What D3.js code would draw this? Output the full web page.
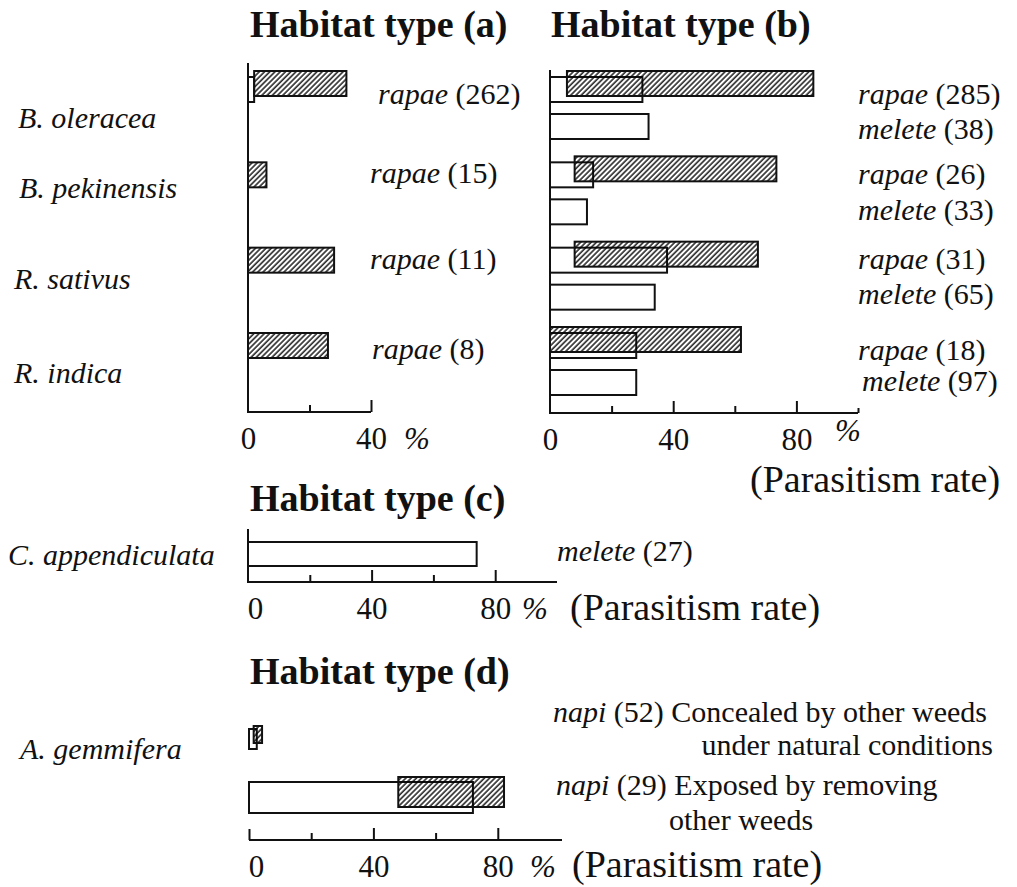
<!DOCTYPE html>
<html><head><meta charset="utf-8">
<script src="https://cdn.jsdelivr.net/npm/d3@7"></script>
<style>
html,body{margin:0;padding:0;background:#fff;}
svg text{font-family:"Liberation Serif","Times New Roman",serif;fill:#111;}
</style></head><body>
<svg id="chart" width="1017" height="887"></svg>
<script>
// ---- Data: parasitism rate (%) per host plant and butterfly sample ----
const hostPlantsAB = ["B. oleracea", "B. pekinensis", "R. sativus", "R. indica"];

// Habitat type (a): P. rapae only
const rapaeCountsA = [262, 15, 11, 8];
const openA = [2, 0, 0, 0];
const hatchStartA = [2, 0, 0, 0];
const hatchEndA = [32, 6, 28, 26];

// Habitat type (b): P. rapae and P. melete
const rapaeCountsB = [285, 26, 31, 18];
const meleteCountsB = [38, 33, 65, 97];
const rapaeOpenB = [30, 14, 38, 28];
const rapaeHatchStartB = [5.5, 8, 8, 0];
const rapaeHatchEndB = [85.5, 73.5, 67.5, 62];
const meleteOpenB = [32, 12, 34, 28];

// Habitat type (c)
const hostPlantC = "C. appendiculata";
const meleteCountC = 27;
const meleteOpenC = 74;

// Habitat type (d)
const hostPlantD = "A. gemmifera";
const napiCountsD = [52, 29];
const napiConditionsD = [["Concealed by other weeds", "under natural conditions"],
                         ["Exposed by removing", "other weeds"]];
const napiOpenD = [2.5, 72];
const napiHatchStartD = [1.5, 48];
const napiHatchEndD = [4.2, 82];

// Axis ticks
const ticksShort = [0, 20, 40];
const ticksFull = [0, 20, 40, 60, 80, 100];
const tickLabelValues = [0, 40, 80];

// ---- Drawing ----
const svg = d3.select("#chart");
svg.append("rect").attr("width", 1017).attr("height", 887).attr("fill", "#fff");

const defs = svg.append("defs");
defs.append("pattern")
  .attr("id", "hatch")
  .attr("patternUnits", "userSpaceOnUse")
  .attr("width", 3.7).attr("height", 3.7)
  .attr("patternTransform", "rotate(45)")
  .append("line")
  .attr("x1", 1).attr("y1", 0).attr("x2", 1).attr("y2", 3.7)
  .attr("stroke", "#000").attr("stroke-width", 1.35);

const INK = "#111";
const LABEL_SIZE = 30;
const TICK_SIZE = 31;

function title(x, y, txt) {
  svg.append("text").attr("x", x).attr("y", y)
    .attr("font-size", 38).attr("font-weight", "bold").text(txt);
}

function italicLabel(x, y, txt, anchor) {
  svg.append("text").attr("x", x).attr("y", y)
    .attr("font-size", LABEL_SIZE).attr("font-style", "italic")
    .attr("text-anchor", anchor || "start").text(txt);
}

function sampleLabel(x, y, species, n, extra, size) {
  const t = svg.append("text").attr("x", x).attr("y", y).attr("font-size", size || LABEL_SIZE);
  t.append("tspan").attr("font-style", "italic").text(species);
  t.append("tspan").text(" (" + n + ")" + (extra ? " " + extra : ""));
}

// Bottom axis with inward (upward) ticks; ticks at 40 and 80 are longer.
function drawAxis(xScale, yAxis, tickVals, opts) {
  const axis = d3.axisBottom(xScale)
    .tickValues(tickVals)
    .tickSizeInner(-7)
    .tickSizeOuter(0)
    .tickFormat(d => tickLabelValues.includes(d) ? d : "");
  const g = svg.append("g").attr("transform", `translate(0,${yAxis})`).call(axis);
  g.select(".domain").attr("stroke", INK).attr("stroke-width", 2)
    .attr("d", `M${xScale.range()[0]},0H${opts.axisEnd}`);
  g.selectAll(".tick line").attr("stroke", INK).attr("stroke-width", 2)
    .attr("y2", d => (d === 0 ? (opts.zeroTick || 0) : (d % 40 === 0 ? -12 : (d === 100 ? -5 : -7))));
  g.selectAll(".tick text")
    .attr("y", 37).attr("dy", 0)
    .attr("dx", d => (d === 0 ? (opts.zeroShift || 0) : 0))
    .attr("font-size", TICK_SIZE).attr("fill", INK);
  return g;
}

function vLine(x, y1, y2) {
  svg.append("line").attr("x1", x).attr("x2", x).attr("y1", y1).attr("y2", y2)
    .attr("stroke", INK).attr("stroke-width", 2);
}

function openBar(x, v, y, h) {
  if (v <= 0) return;
  svg.append("rect")
    .attr("x", x(0)).attr("y", y).attr("width", x(v) - x(0)).attr("height", h)
    .attr("fill", "#fff").attr("stroke", INK).attr("stroke-width", 2);
}

function hatchBar(x, v0, v1, y, h) {
  if (v1 <= v0) return;
  svg.append("rect")
    .attr("x", x(v0)).attr("y", y).attr("width", x(v1) - x(v0)).attr("height", h)
    .attr("fill", "url(#hatch)").attr("stroke", INK).attr("stroke-width", 2);
}

// ---------- Habitat type (a) ----------
const xA = d3.scaleLinear().domain([0, 40]).range([248, 371]);
const groupY = d3.scaleLinear().domain([0, 3]).range([77, 333]);
const BAR_H = 25, HATCH_SHIFT = 6, MELETE_OFFSET = 37;

title(250, 37, "Habitat type (a)");
vLine(xA(0), 63, 413);
hostPlantsAB.forEach((p, i) => {
  const y = groupY(i);
  openBar(xA, openA[i], y, BAR_H);
  hatchBar(xA, hatchStartA[i], hatchEndA[i], openA[i] > 0 ? y - HATCH_SHIFT : y, BAR_H);
});
drawAxis(xA, 412, ticksShort, { axisEnd: xA(40) });
svg.append("text").attr("x", 404).attr("y", 449).attr("font-size", TICK_SIZE)
  .attr("font-style", "italic").text("%");

const labelYA = [104, 183, 269, 359];
const labelXA = [378, 370, 370, 372];
rapaeCountsA.forEach((n, i) => sampleLabel(labelXA[i], labelYA[i], "rapae", n));

const hostLabelY = [128, 198, 289, 383];
const hostLabelX = [18, 19, 14, 14];
hostPlantsAB.forEach((p, i) => italicLabel(hostLabelX[i], hostLabelY[i], p));

// ---------- Habitat type (b) ----------
const xB = d3.scaleLinear().domain([0, 100]).range([550, 858]);
title(551, 37, "Habitat type (b)");
vLine(xB(0), 70, 414);
hostPlantsAB.forEach((p, i) => {
  const y = groupY(i);
  openBar(xB, rapaeOpenB[i], y, BAR_H);
  hatchBar(xB, rapaeHatchStartB[i], rapaeHatchEndB[i], y - HATCH_SHIFT, BAR_H);
  openBar(xB, meleteOpenB[i], y + MELETE_OFFSET, BAR_H);
});
drawAxis(xB, 413, ticksFull, { axisEnd: xB(100) });
svg.append("text").attr("x", 835).attr("y", 441).attr("font-size", TICK_SIZE)
  .attr("font-style", "italic").text("%");
svg.append("text").attr("x", 750).attr("y", 492).attr("font-size", 38).text("(Parasitism rate)");

const rapaeLabelYB = [104, 184, 269, 360];
const meleteLabelYB = [139, 220, 304, 391];
const meleteLabelXB = [858, 858, 858, 862];
rapaeCountsB.forEach((n, i) => sampleLabel(858, rapaeLabelYB[i], "rapae", n));
meleteCountsB.forEach((n, i) => sampleLabel(meleteLabelXB[i], meleteLabelYB[i], "melete", n));

// ---------- Habitat type (c) ----------
const xC = d3.scaleLinear().domain([0, 100]).range([248, 557]);
title(250, 511, "Habitat type (c)");
vLine(xC(0), 529, 583);
openBar(xC, meleteOpenC, 542, 24);
drawAxis(xC, 582, ticksFull.slice(0, 5), { axisEnd: xC(100), zeroShift: 7 });
svg.append("text").attr("x", 522).attr("y", 619).attr("font-size", TICK_SIZE)
  .attr("font-style", "italic").text("%");
svg.append("text").attr("x", 570).attr("y", 620).attr("font-size", 38).text("(Parasitism rate)");
sampleLabel(557, 561, "melete", meleteCountC);
italicLabel(8, 565, hostPlantC);

// ---------- Habitat type (d) ----------
const xD = d3.scaleLinear().domain([0, 100]).range([249, 560]);
title(250, 684, "Habitat type (d)");
const rowTopD = [729, 782];
const rowHD = [20, 31];
napiOpenD.forEach((v, i) => {
  openBar(xD, v, rowTopD[i], rowHD[i]);
  hatchBar(xD, napiHatchStartD[i], napiHatchEndD[i], rowTopD[i] - (i === 0 ? 3 : 5), rowHD[i] - (i === 0 ? 3 : 1));
});
drawAxis(xD, 840, ticksFull.slice(0, 5), { axisEnd: 562, zeroTick: -11, zeroShift: 7 });
svg.append("text").attr("x", 530).attr("y", 877).attr("font-size", TICK_SIZE)
  .attr("font-style", "italic").text("%");
svg.append("text").attr("x", 572).attr("y", 877).attr("font-size", 38).text("(Parasitism rate)");
italicLabel(20, 759, hostPlantD);

const D_SIZE = 30;
const napiLabelX = [553, 556];
const napiLabelY = [722, 795];
const napiSecondLineX = [993, 669];
const napiSecondLineY = [755, 830];
napiCountsD.forEach((n, i) => {
  sampleLabel(napiLabelX[i], napiLabelY[i], "napi", n, napiConditionsD[i][0], D_SIZE);
  svg.append("text").attr("x", napiSecondLineX[i]).attr("y", napiSecondLineY[i])
    .attr("font-size", D_SIZE).attr("text-anchor", i === 0 ? "end" : "start")
    .text(napiConditionsD[i][1]);
});
</script>
</body></html>
